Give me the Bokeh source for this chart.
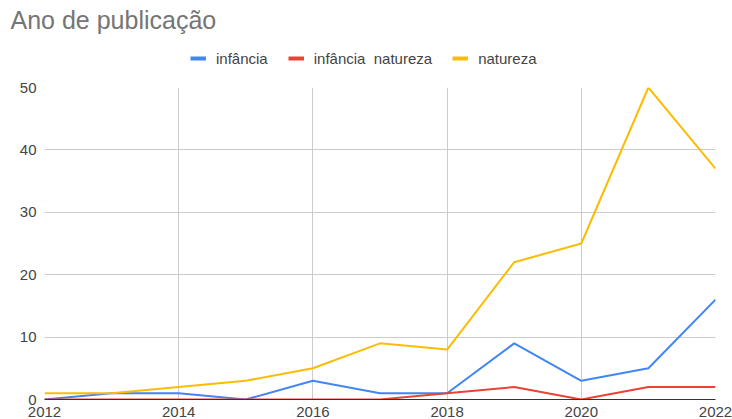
from bokeh.plotting import figure
from bokeh.layouts import column
from bokeh.models import Legend, LegendItem, FixedTicker, ColumnDataSource, Range1d
from bokeh.embed import file_html
from bokeh.resources import INLINE

years = [2012, 2013, 2014, 2015, 2016, 2017, 2018, 2019, 2020, 2021, 2022]
infancia = [0, 1, 1, 0, 3, 1, 1, 9, 3, 5, 16]
infancia_natureza = [0, 0, 0, 0, 0, 0, 1, 2, 0, 2, 2]
natureza = [1, 1, 2, 3, 5, 9, 8, 22, 25, 50, 37]
series_names = ["infância", "infância  natureza", "natureza"]
colors = ["#4285F4", "#EA4335", "#FBBC04"]
x_ticks = [2012, 2014, 2016, 2018, 2020, 2022]
y_ticks = [0, 10, 20, 30, 40, 50]
title_text = "Ano de publicação"

FONT = "Liberation Sans"
HEADER_H = 75
LEFT = 44
RIGHT = 17

# ---- header: title + legend ----
h = figure(width=732, height=HEADER_H, output_backend="svg", toolbar_location=None,
           x_axis_location=None, y_axis_location=None,
           x_range=Range1d(2012, 2022), y_range=Range1d(0, 50),
           min_border_left=LEFT, min_border_right=RIGHT,
           min_border_top=3, min_border_bottom=0)
h.outline_line_color = None
h.xgrid.visible = False
h.ygrid.visible = False

h.title.text = title_text
h.title.text_font = FONT
h.title.text_font_size = "25px"
h.title.text_font_style = "normal"
h.title.text_color = "#757575"
h.title.offset = 10 - LEFT
h.title.standoff = 6

items = []
for name, c in zip(series_names, colors):
    dummy = h.line(x=years, y=[float("nan")] * len(years), line_color=c, line_width=4)
    items.append(LegendItem(label=name, renderers=[dummy]))

legend = Legend(items=items, orientation="horizontal", location=(190 - LEFT, 8),
                label_text_font=FONT, label_text_font_size="15px",
                label_text_color="#444444", border_line_color=None,
                background_fill_alpha=0, glyph_width=16, glyph_height=18,
                spacing=20, label_standoff=10, padding=0, margin=0)
h.add_layout(legend)

# ---- main chart ----
p = figure(width=732, height=423 - HEADER_H, output_backend="svg", toolbar_location=None,
           x_range=Range1d(2012, 2022), y_range=Range1d(0, 50),
           min_border_left=LEFT, min_border_right=RIGHT, min_border_bottom=24,
           min_border_top=87 - HEADER_H)

p.outline_line_color = None
p.background_fill_color = "white"
p.border_fill_color = "white"

p.xaxis.ticker = FixedTicker(ticks=x_ticks)
p.yaxis.ticker = FixedTicker(ticks=y_ticks)
p.xgrid.ticker = FixedTicker(ticks=x_ticks)
p.ygrid.ticker = FixedTicker(ticks=y_ticks)
p.grid.grid_line_color = "#cccccc"
p.grid.grid_line_width = 1

for ax in (p.xaxis, p.yaxis):
    ax.major_tick_line_color = None
    ax.minor_tick_line_color = None
    ax.major_tick_out = 0
    ax.major_tick_in = 0
    ax.minor_tick_out = 0
    ax.minor_tick_in = 0
    ax.major_label_text_font = FONT
    ax.major_label_text_font_size = "15px"
    ax.major_label_text_color = "#444444"
p.yaxis.axis_line_color = None
p.xaxis.axis_line_color = "#333333"
p.xaxis.major_label_standoff = 7
p.yaxis.major_label_standoff = 8

data = [infancia, infancia_natureza, natureza]
for vals, c in zip(data, colors):
    src = ColumnDataSource(dict(x=years, y=vals))
    p.line("x", "y", source=src, line_color=c, line_width=2)

layout = column(h, p, spacing=0)
open("out.html", "w").write(file_html(layout, INLINE))
